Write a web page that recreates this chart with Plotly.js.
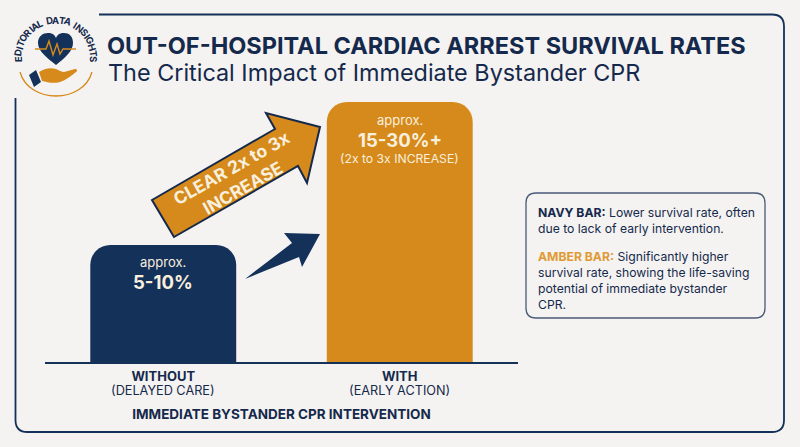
<!DOCTYPE html>
<html>
<head>
<meta charset="utf-8">
<script src="https://cdn.plot.ly/plotly-3.0.1.min.js"></script>
<style>html,body{margin:0;padding:0;background:#f4f3f1;overflow:hidden}#c{width:800px;height:447px}</style>
</head>
<body>
<div id="c"></div>
<script>
// ---- chart data ----
const categories = ["WITHOUT", "WITH"];
const categoryNotes = ["(DELAYED CARE)", "(EARLY ACTION)"];
const barHeights = [13.5, 30];
const barColors = ["#14315a", "#d68a1c"];
const rangeLabels = ["5-10%", "15-30%+"];
const axisTitle = "IMMEDIATE BYSTANDER CPR INTERVENTION";
const titleText = "OUT-OF-HOSPITAL CARDIAC ARREST SURVIVAL RATES";
const subtitleText = "The Critical Impact of Immediate Bystander CPR";
const logoText = "EDITORIAL DATA INSIGHTS";

const W = 800, H = 447;
const NAVY = "#14315a", INK = "#15294c", AMBER = "#d68a1c", GOLD = "#e09a35", PALE = "#f8efdd";
const FONT = "Inter, 'DejaVu Sans', sans-serif";
const px = (x) => x / W, py = (y) => 1 - y / H;

// convert a path of pixel-space pairs into paper space
function path(str) {
  let isX = true;
  return str.replace(/-?\d+(\.\d+)?/g, (m) => {
    const v = parseFloat(m);
    const r = isX ? px(v) : py(v);
    isX = !isX;
    return r.toFixed(5);
  });
}
function shape(d, fill, line, width) {
  return { type: "path", xref: "paper", yref: "paper", path: path(d), fillcolor: fill || "rgba(0,0,0,0)",
           line: { color: line || "rgba(0,0,0,0)", width: width === undefined ? 0 : width }, layer: "above" };
}
function note(x, y, text, size, color, extra) {
  return Object.assign({ xref: "paper", yref: "paper", x: px(x), y: py(y), text: text, showarrow: false,
    xanchor: "center", yanchor: "middle", align: "center", font: { family: FONT, size: size, color: color } }, extra || {});
}

const shapes = [
  // frame, open at the top-left around the badge
  shape("M99 14.5 L772 14.5 Q784 14.5 784 26.5 L784 420 Q784 432 772 432 L27.5 432 Q15.5 432 15.5 420 L15.5 98", null, NAVY, 1.8),
  // big annotated arrow
  shape("M152 200 L275 129 L266 113 L320 127 L307 183 L298 166 L174 237 Z", AMBER, INK, 2),
  // small dark arrow
  shape("M245 279 L292 243 L284 233 L320 234 L302 267 L299 257 Z", NAVY),
  // explanation box
  shape("M536 193 L755 193 Q765 193 765 203 L765 308 Q765 318 755 318 L536 318 Q526 318 526 308 L526 203 Q526 193 536 193 Z", null, "#4a5a78", 1.3),
  // badge: heart
  shape("M56 65 C47 58 38 51 38 43 C38 36 43 33 48 33 C52 33 55 35 56 38 C57 35 60 33 64 33 C69 33 73 36 73 43 C73 51 65 58 56 65 Z", NAVY),
  // badge: pulse
  shape("M35 49 L46 49 L49 41 L53 55 L57 44 L60 54 L63 49 L76 49", null, AMBER, 1.4),
  // badge: hand and cuff
  shape("M39 72 C44 69 50 67 56 69 C60 71 62 72 64 72 L75 69 C77 69 78 71 76 72 C71 76 66 80 60 82 C53 84 47 82 42 81 Z", AMBER),
  shape("M29 75 L36 70 L41 82 L34 87 Z", NAVY),
  // badge: arc
  shape("M20 72 C29 104 83 104 92 72", null, AMBER, 1.3)
];

const annotations = [
  note(105.5, 72, subtitleText, 23.4, INK, { xanchor: "left" }),
  // category notes under the tick labels
  note(0, 390, categoryNotes[0], 12.7, INK, { xref: "x", x: 0 }),
  note(0, 390, categoryNotes[1], 12.7, INK, { xref: "x", x: 1 }),
  // bar labels
  note(0, 262, "approx.", 13, PALE, { xref: "x", x: 0 }),
  note(0, 282, "<b>" + rangeLabels[0] + "</b>", 18.5, PALE, { xref: "x", x: 0 }),
  note(0, 120, "approx.", 13, PALE, { xref: "x", x: 1 }),
  note(0, 140, "<b>" + rangeLabels[1] + "</b>", 18.5, PALE, { xref: "x", x: 1 }),
  note(0, 158, "(2x to 3x INCREASE)", 12.2, PALE, { xref: "x", x: 1 }),
  // arrow text
  note(237, 178, "<b>CLEAR 2x to 3x<br>INCREASE</b>", 17.5, PALE, { textangle: -29.5 }),
  // box text
  note(535.5, 220.5, "<b>NAVY BAR:</b> Lower survival rate, often<br>due to lack of early intervention.", 12.2, INK, { xanchor: "left", align: "left" }),
  note(535.5, 280, "<b style=\"color:#e09a35\">AMBER BAR:</b> Significantly higher<br>survival rate, showing the life-saving<br>potential of immediate bystander<br>CPR.", 12.2, INK, { xanchor: "left", align: "left" })
];

// badge lettering set along a circle
const cx = 56, cy = 58, rad = 38;
const widths = { " ": 0.45, I: 0.42, E: 0.78, D: 0.9, T: 0.78, O: 1, R: 0.82, A: 0.9, L: 0.72, N: 0.95, S: 0.8, G: 0.95, H: 0.92 };
const letters = logoText.split("");
const total = letters.reduce((s, c) => s + widths[c], 0);
const startDeg = -96, spanDeg = 192;
let run = 0;
letters.forEach((c) => {
  const mid = run + widths[c] / 2;
  run += widths[c];
  if (c === " ") return;
  const deg = startDeg + spanDeg * mid / total;
  const a = deg * Math.PI / 180;
  annotations.push(note(cx + rad * Math.sin(a), cy - rad * Math.cos(a), "<b>" + c + "</b>", 9.5, INK, { textangle: deg }));
});

const data = [{
  type: "bar",
  x: [0, 1],
  y: barHeights,
  width: 0.617,
  marker: { color: barColors, cornerradius: 20, line: { width: 0 } },
  hoverinfo: "skip"
}];

const layout = {
  width: W, height: H,
  paper_bgcolor: "#f4f3f1", plot_bgcolor: "#f4f3f1",
  margin: { l: 0, r: 0, t: 0, b: 0, pad: 0 },
  showlegend: false,
  font: { family: FONT, color: INK },
  title: { text: "<b>" + titleText + "</b>", font: { family: FONT, size: 23.5, color: INK },
           xref: "paper", x: 107 / W, xanchor: "left", yref: "container", y: 1 - 46 / H, yanchor: "middle" },
  xaxis: {
    domain: [px(45), px(518)], range: [-0.5, 1.5], fixedrange: true,
    tickmode: "array", tickvals: [0, 1],
    ticktext: categories.map((c) => "<b>" + c + "</b>"),
    tickfont: { family: FONT, size: 13, color: INK },
    ticks: "outside", ticklen: 1, tickcolor: "rgba(0,0,0,0)",
    showgrid: false, zeroline: false, showline: true, linecolor: NAVY, linewidth: 2,
    title: { text: "<b>" + axisTitle + "</b>", font: { family: FONT, size: 13.5, color: INK }, standoff: 27 }
  },
  yaxis: {
    domain: [py(362), py(102)], range: [0, 30], fixedrange: true,
    visible: false
  },
  shapes: shapes,
  annotations: annotations
};

Plotly.newPlot("c", data, layout, { displayModeBar: false, staticPlot: true });
</script>
</body>
</html>
